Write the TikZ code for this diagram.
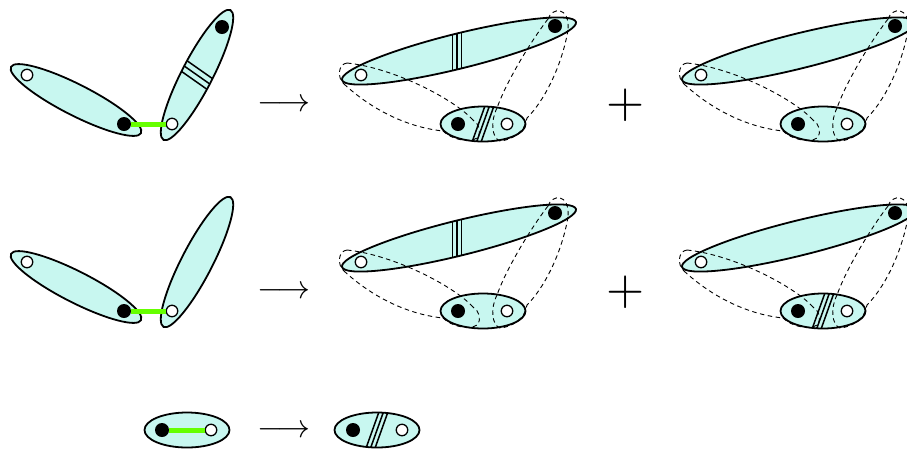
\documentclass[tikz,border=0pt]{standalone}
\usetikzlibrary{shapes.geometric}
\definecolor{blobfill}{RGB}{200,247,240}
\definecolor{bondgreen}{RGB}{102,255,0}

\begin{document}
\begin{tikzpicture}[x=1pt,y=-1pt,
  blob/.style={ellipse,draw=black,fill=blobfill,line width=1.8pt,inner sep=0pt,outer sep=0pt},
  longblob/.style={blob,minimum width=146pt,minimum height=31pt},
  bigblob/.style={blob,minimum width=241pt,minimum height=35pt,rotate=13.9},
  smallblob/.style={blob,minimum width=85pt,minimum height=35pt},
  wdot/.style={circle,draw=black,fill=white,line width=1.3pt,minimum size=11.5pt,inner sep=0pt},
  bdot/.style={circle,fill=black,minimum size=14pt,inner sep=0pt},
  bond/.style={draw=bondgreen,line width=5pt},
  tube/.style={line width=0.9pt,dash pattern=on 4.5pt off 3.5pt},
  stripe/.style={line width=1.5pt}]
\path[use as bounding box] (0,0) rectangle (907,451);
\clip (0,0) rectangle (907,451);

% rows 1 and 2, left: two blobs joined by a bond
\foreach \dy/\r in {0/1,187/2}{
  \begin{scope}[shift={(0,\dy)}]
    \node[longblob,rotate=-27] (lblob\r) at (76,100) {};
    \node[longblob,rotate=62.7] (rblob\r) at (197,75) {};
    \node[wdot] (lw\r) at (27,75) {};
    \node[bdot] (lb\r) at (124,124) {};
    \node[wdot] (rw\r) at (172,124) {};
    \draw[bond] (lb\r) -- (rw\r);
    \node (arrow\r) at (284,105) {\scalebox{3.3}{$\longrightarrow$}};
    \node (plus\r) at (626,105) {\scalebox{4.9}{$+$}};
  \end{scope}
}
\node[bdot] (rb1) at (222,27) {};
\begin{scope}
  \clip[rotate around={62.7:(197,75)}] (197,75) ellipse [x radius=73, y radius=15.5];
  \foreach \ox/\oy in {-2.8/5.3,0/0,2.8/-5.3}
    \draw[stripe] ({176.5+\ox},{60.6+\oy}) -- ({217.5+\ox},{89.4+\oy});
\end{scope}

% rows 1 and 2, right: big blob over small blob, dashed tubes
\foreach \dx/\dy/\f in {0/0/a,340/0/b,0/187/c,340/187/d}{
  \begin{scope}[shift={(\dx,\dy)}]
    \node[bigblob] (big\f) at (459,51) {};
    \node[smallblob] (small\f) at (483,124) {};
    \draw[tube] (347,63) .. controls (338,64) and (337,78) .. (344,84);
    \draw[tube] (347,63) .. controls (395,68) and (455,100) .. (473,120);
    \draw[tube] (344,84) .. controls (370,108) and (405,127) .. (443,131);
    \draw[tube] (443,131) .. controls (452,140) and (470,143) .. (477,138)
      .. controls (482,132) and (479,124) .. (473,120);
    \draw[tube] (548,19) .. controls (552,7) and (570,6) .. (568,30);
    \draw[tube] (548,19) .. controls (528,45) and (505,85) .. (497,108);
    \draw[tube] (568,30) .. controls (562,65) and (545,100) .. (527,118);
    \draw[tube] (497,108) .. controls (490,122) and (492,138) .. (500,141)
      .. controls (512,140) and (525,132) .. (527,118);
    \node[wdot] (bw\f) at (361,75) {};
    \node[bdot] (bb\f) at (555,26) {};
    \node[bdot] (sb\f) at (458,124) {};
    \node[wdot] (sw\f) at (507,124) {};
  \end{scope}
}

% stripes on the big blobs
\foreach \dy in {0,187}{
  \begin{scope}[shift={(0,\dy)}]
    \clip[rotate around={13.9:(459,51)}] (459,51) ellipse [x radius=120.5, y radius=17.5];
    \foreach \sx in {452.5,457,461.5} \draw[stripe] (\sx,20) -- (\sx,80);
  \end{scope}
}

% row 3
\node[smallblob] (pairblob) at (187,430) {};
\node[bdot] (pb3) at (162,430) {};
\node[wdot] (pw3) at (211,430) {};
\draw[bond] (pb3) -- (pw3);
\node (arrow3) at (284,431) {\scalebox{3.3}{$\longrightarrow$}};
\node[smallblob] (splitblob) at (377,430) {};
\node[bdot] (sb3) at (353,430) {};
\node[wdot] (sw3) at (402,430) {};

% stripes on the small blobs
\foreach \dx/\dy in {0/0,340/187,-106/306}{
  \begin{scope}[shift={(\dx,\dy)}]
    \clip (483,124) ellipse [x radius=42.5, y radius=17.5];
    \foreach \d in {-4.5,0,4.5} \draw[stripe] (490.5+\d,103) -- (475.5+\d,145);
  \end{scope}
}
\end{tikzpicture}
\end{document}
